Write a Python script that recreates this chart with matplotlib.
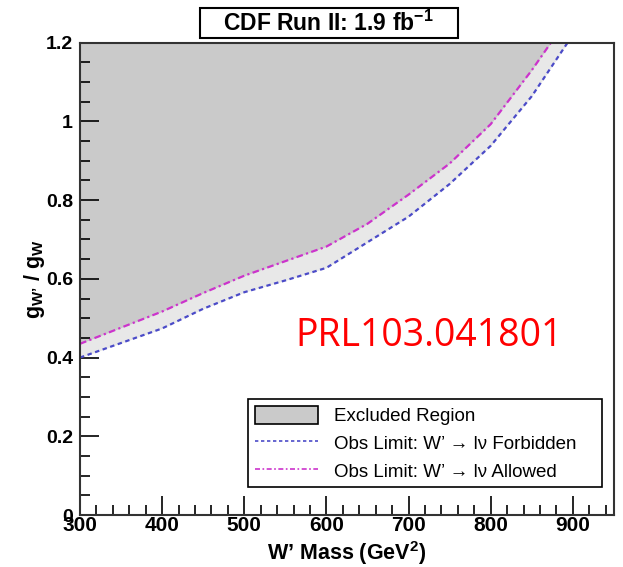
import matplotlib.pyplot as plt
from matplotlib.patches import Patch, Rectangle
from matplotlib.lines import Line2D
from matplotlib.ticker import MultipleLocator
import numpy as np

mass = [300, 350, 400, 450, 500, 550, 600, 650, 700, 750, 800, 850, 900]
limit_allowed = [0.435, 0.476, 0.517, 0.564, 0.608, 0.645, 0.682, 0.74, 0.814, 0.893, 0.993, 1.13, 1.28]
limit_forbidden = [0.400, 0.437, 0.474, 0.524, 0.566, 0.596, 0.628, 0.693, 0.758, 0.841, 0.938, 1.064, 1.22]

plt.rcParams['font.family'] = ['Liberation Sans', 'DejaVu Sans']
plt.rcParams['mathtext.fontset'] = 'custom'
plt.rcParams['mathtext.rm'] = 'Liberation Sans'
plt.rcParams['mathtext.bf'] = 'Liberation Sans:bold'
plt.rcParams['mathtext.it'] = 'Liberation Sans:italic'
plt.rcParams['mathtext.default'] = 'regular'

fig = plt.figure(figsize=(6.23, 5.67), dpi=100)
ax = fig.add_axes([0.1284, 0.0917, 0.857, 0.833])

m = np.array(mass)
# excluded region above the "allowed" curve, light band between the two
ax.fill_between(m, limit_forbidden, limit_allowed, color='#e8e8e8', lw=0)
ax.fill_between(m, limit_allowed, 1.5, color='#cacaca', lw=0)
ax.plot(m, limit_forbidden, color='#4b4bc8', lw=1.6, ls=(0, (2, 1.6)))
ax.plot(m, limit_allowed, color='#cc33cc', lw=1.6, ls=(0, (3, 1.5, 1, 1.5)))

ax.set_xlim(300, 950)
ax.set_ylim(0, 1.2)
ax.xaxis.set_major_locator(MultipleLocator(100))
ax.xaxis.set_minor_locator(MultipleLocator(20))
ax.yaxis.set_major_locator(MultipleLocator(0.2))
ax.yaxis.set_minor_locator(MultipleLocator(0.05))
ax.tick_params(which='both', direction='in', top=False, right=False, width=1.2)
ax.tick_params(which='major', length=14)
ax.tick_params(which='minor', length=7)
ax.tick_params(axis='x', pad=1, labelsize=15)
ax.tick_params(axis='y', pad=5, labelsize=14)
for lab in ax.get_xticklabels() + ax.get_yticklabels():
    lab.set_fontweight('bold')
ax.yaxis.set_major_formatter(plt.FuncFormatter(lambda v, p: f'{v:g}'))
for s in ax.spines.values():
    s.set_linewidth(1.5)
    s.set_color('#333333')

ax.set_xlabel("W\u2019 Mass (GeV$^\\mathbf{2}$)", fontsize=15.5, fontweight='bold')
ax.xaxis.set_label_coords(0.5, -0.05)
ax.set_ylabel("g$_\\mathbf{W\u2019}$ / g$_\\mathbf{W}$", fontsize=15.5, fontweight='bold')
ax.yaxis.set_label_coords(-0.062, 0.5)

# title box
fig.patches.append(Rectangle((200 / 623, 1 - 38 / 567), 258 / 623, 29.5 / 567,
                             transform=fig.transFigure, fc='white', ec='black', lw=1.5))
fig.text(0.527, 0.959, "CDF Run II: 1.9 fb$^{\\mathbf{-1}}$", ha='center', va='center',
         fontsize=16.5, fontweight='bold')

ax.text(0.654, 0.379, 'PRL103.041801', transform=ax.transAxes, ha='center', va='center',
        fontsize=27, color='#ff0000', family=['Open Sans', 'DejaVu Sans'])

handles = [Patch(fc='#cacaca', ec='black', lw=1.2),
           Line2D([], [], color='#4b4bc8', lw=1.2, ls=(0, (2, 1.6))),
           Line2D([], [], color='#cc33cc', lw=1.2, ls=(0, (3, 1.5, 1, 1.5)))]
labels = ['Excluded Region',
          "Obs Limit: W\u2019 \u2192 l\u03bd Forbidden",
          "Obs Limit: W\u2019 \u2192 l\u03bd Allowed"]
leg = ax.legend(handles, labels, loc='lower left', bbox_to_anchor=(0.315, 0.059, 0.663, 0.193),
                mode='expand', fontsize=13.5, handlelength=3.4, handleheight=1.1,
                labelspacing=0.45, borderaxespad=0, fancybox=False, framealpha=1,
                edgecolor='black', borderpad=0.35, handletextpad=0.85)
leg.get_frame().set_linewidth(1.2)

fig.savefig('out.png', dpi=100)
